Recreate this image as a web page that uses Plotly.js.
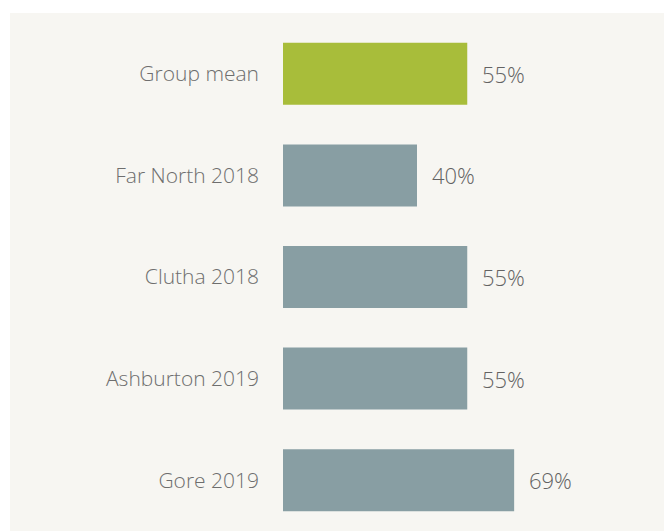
<!DOCTYPE html>
<html><head><meta charset="utf-8">
<script src="https://cdn.plot.ly/plotly-3.0.1.min.js"></script>
<style>html,body{margin:0;padding:0;background:#fff}</style>
</head><body><div id="chart" style="width:664px;height:531px"></div>
<script>
const categories = ["Group mean", "Far North 2018", "Clutha 2018", "Ashburton 2019", "Gore 2019"];
const values = [55, 40, 55, 55, 69];
const barColors = ["#a8bd3a", "#889ea3", "#889ea3", "#889ea3", "#889ea3"];
const valueLabels = values.map(v => v + "%");

const trace = {
  type: "bar", orientation: "h",
  y: categories, x: values,
  marker: {color: barColors, line: {width: 0}},
  width: 0.61, hoverinfo: "none"
};
const annotations = categories.map((c, i) => ({
  x: values[i], y: c, xref: "x", yref: "y",
  text: valueLabels[i], showarrow: false, xanchor: "left", xshift: 13,
  font: {family: "Open Sans", size: 22, color: "#636363", weight: 300}
}));
const layout = {
  width: 664, height: 531,
  margin: {l: 283, r: 46, t: 23, b: 0},
  paper_bgcolor: "#ffffff", plot_bgcolor: "rgba(0,0,0,0)",
  showlegend: false,
  xaxis: {range: [0, 100], visible: false, fixedrange: true},
  yaxis: {autorange: "reversed", showgrid: false, zeroline: false, showline: false,
    ticks: "", ticklabelstandoff: 23,
    tickfont: {family: "Open Sans", size: 21, color: "#6e6e6e", weight: 300}},
  shapes: [{type: "rect", xref: "paper", yref: "paper", x0: -0.815, x1: 1.2, y0: -0.1, y1: 1.0197,
    fillcolor: "#f7f6f2", line: {width: 0}, layer: "below"}],
  annotations: annotations
};
Plotly.newPlot("chart", [trace], layout, {displayModeBar: false, staticPlot: true});
</script></body></html>
